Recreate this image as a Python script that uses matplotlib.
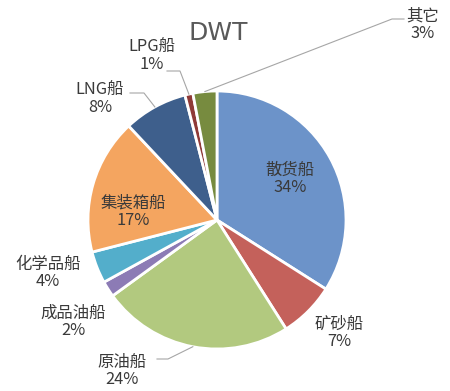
import numpy as np
import matplotlib.pyplot as plt

plt.rcParams['font.family'] = ['Noto Sans CJK SC', 'DejaVu Sans']

# data
categories = ['散货船', '矿砂船', '原油船', '成品油船', '化学品船', '集装箱船', 'LNG船', 'LPG船', '其它']
shares = [34, 7, 24, 2, 4, 17, 8, 1, 3]
colors = ['#6C93C9', '#C4615B', '#B2C97F', '#8C7BB5', '#53AECB', '#F4A560', '#3E5F8C', '#8F3A37', '#778B3F']

# layout (pixel coords, y from top)
W, H = 450, 391
cx, cy, R = 217, 220, 129
label_pos = {
    '散货船': (290, 179), '矿砂船': (339, 333), '原油船': (122, 371),
    '成品油船': (73, 322), '化学品船': (48, 273), '集装箱船': (133, 212),
    'LNG船': (100, 99), 'LPG船': (152, 56), '其它': (423, 25),
}
# leader lines: knee point, end point
leaders = {
    '其它': ((392, 19), (404, 19)),
    'LPG船': ((180, 71), (167, 71)),
    'LNG船': ((144, 93), (130, 93)),
    '原油船': ((168, 359), (157, 359)),
}

fig = plt.figure(figsize=(W / 100, H / 100), dpi=100)
ax = fig.add_axes([0, 0, 1, 1])

wedges, _ = ax.pie(shares, colors=colors, startangle=90, counterclock=False,
                   center=(cx, H - cy), radius=R,
                   wedgeprops=dict(edgecolor='white', linewidth=2))
ax.set_xlim(0, W)
ax.set_ylim(0, H)
ax.set_aspect('equal')
ax.axis('off')

ax.text(218, H - 33, 'DWT', ha='center', va='center', fontsize=18, color='#595959',
        family=['DejaVu Sans'])

for name, val, w in zip(categories, shares, wedges):
    x, y = label_pos[name]
    ax.text(x, H - y, f'{name}\n{val}%', ha='center', va='center', fontsize=11.8,
            color='#3A3A3A', linespacing=1.05)
    if name in leaders:
        ang = np.deg2rad((w.theta1 + w.theta2) / 2)
        sx, sy = cx + R * np.cos(ang), (H - cy) + R * np.sin(ang)
        (kx, ky), (ex, ey) = leaders[name]
        ax.plot([sx, kx, ex], [sy, H - ky, H - ey], color='#A6A6A6', lw=0.8)

fig.savefig('out.png', dpi=100)
